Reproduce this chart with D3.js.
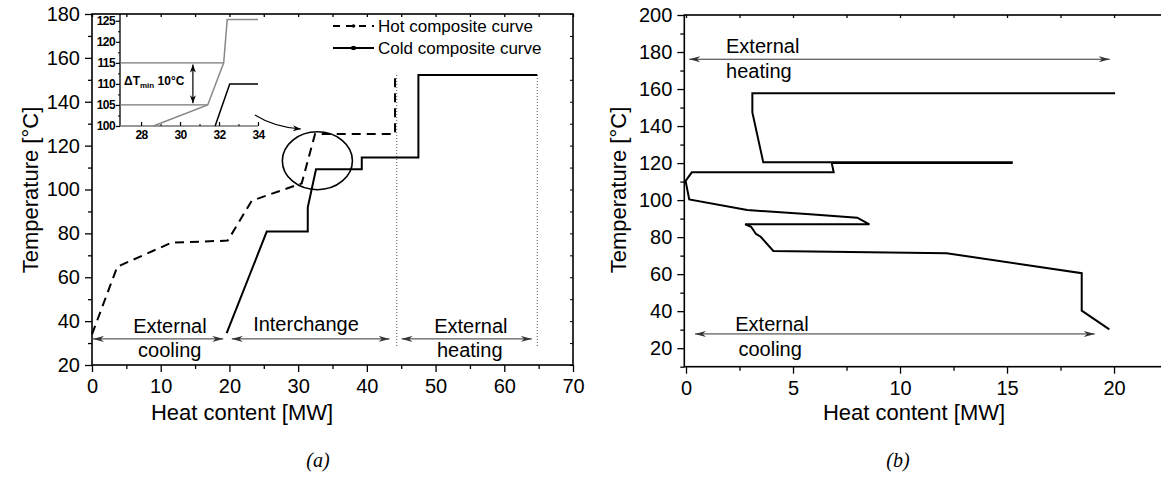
<!DOCTYPE html>
<html><head><meta charset="utf-8">
<script src="https://cdn.jsdelivr.net/npm/d3@7"></script>
<style>
body{margin:0;background:#fff}
text{font-family:"Liberation Sans",Arial,Helvetica,sans-serif;fill:#000}
</style></head>
<body><svg id="c" width="1161" height="492"></svg>
<script>
// ---- data (a) composite curves ----
const hotHeat  = [0, 3.68, 11.6, 19.75, 23.25, 30.52, 32.46, 44.1, 44.1];
const hotTemp  = [34, 64.8, 75.8, 76.7, 94.9, 102.8, 125.3, 125.3, 152.2];
const coldHeat = [19.6, 25.43, 31.4, 31.4, 32.6, 39.26, 39.26, 47.5, 47.5, 64.8];
const coldTemp = [34.5, 80.8, 80.8, 91.9, 109.2, 109.2, 114.6, 114.6, 152.2, 152.2];
// inset (zoom of pinch region)
const insetHotHeat  = [28.63, 31.42, 32.24, 32.42, 34];
const insetHotTemp  = [100, 105, 115, 125.3, 125.3];
const insetColdHeat = [31.8, 32.55, 34];
const insetColdTemp = [100, 110, 110];
const insetTicksX = [28, 30, 32, 34];
const insetTicksY = [100, 105, 110, 115, 120, 125];
// ---- data (b) grand composite curve ----
const gccHeat = [20.05, 3.1, 3.1, 3.61, 15.22, 15.22, 6.81, 6.9, 0.27, -0.02, 0.15, 2.86, 5.79, 8.0, 8.57, 2.76, 3.04, 3.27, 3.49, 4.08, 12.18, 18.49, 18.49, 19.78];
const gccTemp = [157.7, 157.7, 147.4, 120.4, 120.5, 120.0, 120.0, 115.0, 115.0, 110.3, 100.4, 94.6, 92.3, 90.5, 86.9, 86.9, 85.6, 81.7, 80.2, 72.5, 71.3, 60.5, 40.3, 30.2];
// ticks
const aTicksX = [0,10,20,30,40,50,60,70];
const aMinorX = [5,15,25,35,45,55,65];
const aTicksY = [20,40,60,80,100,120,140,160,180];
const aMinorY = [30,50,70,90,110,130,150,170];
const bTicksX = [0,5,10,15,20];
const bMinorX = [2.5,7.5,12.5,17.5];
const bTicksY = [20,40,60,80,100,120,140,160,180,200];
const bMinorY = [10,30,50,70,90,110,130,150,170,190];
// region markers (a)
const regionHeat = [0, 19.1, 20.2, 43.3, 44.9, 64.0];
const pinchLines = [44.35, 64.8];

const svg = d3.select("#c");
const defs = svg.append("defs");
function marker(id, color, w, h){
  defs.append("marker").attr("id", id).attr("viewBox", `0 0 ${w} ${h}`)
    .attr("refX", w).attr("refY", h/2).attr("markerWidth", w).attr("markerHeight", h)
    .attr("markerUnits","userSpaceOnUse").attr("orient","auto-start-reverse")
    .append("path").attr("d", `M0,0 L${w},${h/2} L0,${h} L${w*0.3},${h/2} Z`).attr("fill", color);
}
marker("arr", "#333", 11, 6);
marker("arrK", "#000", 8, 6);

// ================= (a) =================
const xa = d3.scaleLinear([0,70],[92,573]);
const ya = d3.scaleLinear([20,180],[365,14]);
const ga = svg.append("g");

function axes(g, x, y, tx, mx, ty, my){
  const [x0,x1] = x.range(), [y0,y1] = y.range();
  const ax = (gen, tr) => { const s = g.append("g").attr("transform", tr).call(gen); s.select(".domain").remove(); s.selectAll("line").attr("stroke","#000").attr("stroke-width",1.3); s.selectAll("text").style("font-size","20px").style("font-family",'"Liberation Sans",Arial,sans-serif'); return s; };
  ax(d3.axisBottom(x).tickValues(tx).tickSize(7).tickPadding(7).tickFormat(d3.format("d")), `translate(0,${y0})`);
  ax(d3.axisBottom(x).tickValues(mx).tickSize(4).tickFormat(""), `translate(0,${y0})`);
  ax(d3.axisLeft(y).tickValues(ty).tickSize(7).tickPadding(5).tickFormat(d3.format("d")), `translate(${x0},0)`);
  ax(d3.axisLeft(y).tickValues(my).tickSize(4).tickFormat(""), `translate(${x0},0)`);
  ax(d3.axisTop(x).tickValues(tx.concat(mx)).tickSize(-3).tickFormat(""), `translate(0,${y1})`);
  g.append("rect").attr("x",x0).attr("y",y1).attr("width",x1-x0).attr("height",y0-y1)
    .attr("fill","none").attr("stroke","#000").attr("stroke-width",1.6);
}
axes(ga, xa, ya, aTicksX, aMinorX, aTicksY, aMinorY);
// right-side inward ticks (a)
ga.append("g").attr("transform",`translate(573,0)`).call(d3.axisRight(ya).tickValues(aTicksY.concat(aMinorY)).tickSize(-3).tickFormat("")).call(s=>{s.select(".domain").remove();s.selectAll("line").attr("stroke","#000");});

const lineA = d3.line().x(d=>xa(d[0])).y(d=>ya(d[1]));
// pinch/dotted lines
pinchLines.forEach(v=>{
  ga.append("line").attr("x1",xa(v)).attr("x2",xa(v)).attr("y1",ya(152.2)).attr("y2",ya(28.6))
    .attr("stroke","#555").attr("stroke-width",1).attr("stroke-dasharray","1,2");
});
ga.append("path").attr("d", lineA(hotHeat.map((h,i)=>[h,hotTemp[i]])))
  .attr("fill","none").attr("stroke","#000").attr("stroke-width",2).attr("stroke-dasharray","9,6");
ga.append("path").attr("d", lineA(coldHeat.map((h,i)=>[h,coldTemp[i]])))
  .attr("fill","none").attr("stroke","#000").attr("stroke-width",2);

// ellipse around pinch
ga.append("ellipse").attr("cx",xa(32.8)).attr("cy",ya(113.1))
  .attr("rx",xa(32.8+5.1)-xa(32.8)).attr("ry",ya(113.1)-ya(113.1+13.2))
  .attr("fill","none").attr("stroke","#000").attr("stroke-width",1.6);
// curved arrow from inset
ga.append("path").attr("d",`M${xa(23.7)},${ya(134)} Q${xa(26.5)},${ya(128.5)} ${xa(30.4)},${ya(127.6)}`)
  .attr("fill","none").attr("stroke","#000").attr("stroke-width",1.1).attr("marker-end","url(#arrK)");

// region arrows
const arrowT = 31.9;
for (let i=0;i<6;i+=2){
  ga.append("line").attr("x1",xa(regionHeat[i])+1).attr("x2",xa(regionHeat[i+1])).attr("y1",ya(arrowT)).attr("y2",ya(arrowT))
    .attr("stroke","#333").attr("stroke-width",1).attr("marker-start","url(#arr)").attr("marker-end","url(#arr)");
}
const ann = (g, txt, x, y, size, anchor) => g.append("text").attr("x",x).attr("y",y).attr("text-anchor",anchor||"start").style("font-size",(size||20)+"px").text(txt);
ann(ga,"External", xa(6.0), 333);
ann(ga,"cooling", xa(6.7), 357);
ann(ga,"Interchange", xa(23.45), 331);
ann(ga,"External", xa(49.8), 333);
ann(ga,"heating", xa(50.2), 357);

// legend
const lg = ga.append("g");
lg.append("line").attr("x1",333).attr("x2",374).attr("y1",26).attr("y2",26).attr("stroke","#000").attr("stroke-width",1.8).attr("stroke-dasharray","7,6");
lg.append("circle").attr("cx",353.5).attr("cy",26).attr("r",1.8).attr("fill","#000");
lg.append("line").attr("x1",333).attr("x2",374).attr("y1",48).attr("y2",48).attr("stroke","#000").attr("stroke-width",1.8);
lg.append("rect").attr("x",351.5).attr("y",46).attr("width",4).attr("height",4).attr("fill","#000");
ann(lg,"Hot composite curve",378,32,17);
ann(lg,"Cold composite curve",378,54,17);

// inset
const xi = d3.scaleLinear([26.92,34],[120,258]);
const yi = d3.scaleLinear([100,126.6],[126,14]);
const gi = svg.append("g");
gi.append("line").attr("x1",120).attr("x2",120).attr("y1",yi(100)).attr("y2",yi(126.6)).attr("stroke","#000").attr("stroke-width",1.3);
gi.append("line").attr("x1",xi(26.92)).attr("x2",xi(34)).attr("y1",yi(100)).attr("y2",yi(100)).attr("stroke","#777").attr("stroke-width",1.3);
gi.append("g").attr("transform","translate(120,0)").call(d3.axisLeft(yi).tickValues(insetTicksY).tickSize(4).tickPadding(1).tickFormat(d3.format("d")))
  .call(s=>{s.select(".domain").remove();s.selectAll("line").attr("stroke","#000").attr("stroke-width",1.2);s.selectAll("text").style("font-size","12px").style("font-weight","bold").style("letter-spacing","-0.6px");});
gi.append("g").attr("transform",`translate(120,0)`).call(d3.axisLeft(yi).tickValues([102.5,107.5,112.5,117.5,122.5]).tickSize(2).tickFormat(""))
  .call(s=>{s.select(".domain").remove();s.selectAll("line").attr("stroke","#000");});
gi.append("g").attr("transform",`translate(0,${yi(100)})`).call(d3.axisBottom(xi).tickValues(insetTicksX).tickSize(-4).tickPadding(4).tickFormat(d3.format("d")))
  .call(s=>{s.select(".domain").remove();s.selectAll("line").attr("stroke","#000").attr("stroke-width",1.2);s.selectAll("text").style("font-size","12px").style("font-weight","bold").style("letter-spacing","-0.6px");});
gi.append("g").attr("transform",`translate(0,${yi(100)})`).call(d3.axisBottom(xi).tickValues([29,31,33]).tickSize(-2).tickFormat(""))
  .call(s=>{s.select(".domain").remove();s.selectAll("line").attr("stroke","#000");});
const lineI = d3.line().x(d=>xi(d[0])).y(d=>yi(d[1]));
[[115,32.24],[105,31.42]].forEach(([t,h])=>{
  gi.append("line").attr("x1",xi(26.92)).attr("x2",xi(h)).attr("y1",yi(t)).attr("y2",yi(t)).attr("stroke","#777").attr("stroke-width",1.3);
});
gi.append("path").attr("d",lineI(insetHotHeat.map((h,i)=>[h,insetHotTemp[i]]))).attr("fill","none").attr("stroke","#888").attr("stroke-width",1.5);
gi.append("path").attr("d",lineI(insetColdHeat.map((h,i)=>[h,insetColdTemp[i]]))).attr("fill","none").attr("stroke","#000").attr("stroke-width",1.5);
gi.append("line").attr("x1",xi(30.66)).attr("x2",xi(30.66)).attr("y1",yi(114.6)).attr("y2",yi(105.4))
  .attr("stroke","#000").attr("stroke-width",1.2).attr("marker-start","url(#arrK)").attr("marker-end","url(#arrK)");
const dt = gi.append("text").attr("x",124).attr("y",85).style("font-size","12px").style("font-weight","bold");
dt.append("tspan").text("ΔT");
dt.append("tspan").attr("dy",3).style("font-size","8px").text("min");
dt.append("tspan").attr("dy",-3).text(" 10°C");

// titles (a)
svg.append("text").attr("transform","translate(38,190) rotate(-90)").attr("text-anchor","middle").style("font-size","22px").text("Temperature [°C]");
svg.append("text").attr("x",242).attr("y",420).attr("text-anchor","middle").style("font-size","22px").text("Heat content [MW]");
svg.append("text").attr("x",318).attr("y",467).attr("text-anchor","middle").style("font-size","20px").style("font-style","italic").style("font-family",'"Liberation Serif","Times New Roman",serif').text("(a)");

// ================= (b) =================
const xb = d3.scaleLinear([-0.08,22.4],[684.3,1165.4]);
const yb = d3.scaleLinear([10,200],[366.7,15]);
const gb = svg.append("g");
axes(gb, xb, yb, bTicksX, bMinorX, bTicksY, bMinorY);
const lineB = d3.line().x(d=>xb(d[0])).y(d=>yb(d[1]));
gb.append("path").attr("d", lineB(gccHeat.map((h,i)=>[h,gccTemp[i]])))
  .attr("fill","none").attr("stroke","#000").attr("stroke-width",2).attr("stroke-linejoin","miter");
gb.append("line").attr("x1",xb(0.15)).attr("x2",xb(19.8)).attr("y1",yb(176.1)).attr("y2",yb(176.1))
  .attr("stroke","#333").attr("stroke-width",1).attr("marker-start","url(#arr)").attr("marker-end","url(#arr)");
gb.append("line").attr("x1",xb(0.42)).attr("x2",xb(19.1)).attr("y1",yb(27.7)).attr("y2",yb(27.7))
  .attr("stroke","#333").attr("stroke-width",1).attr("marker-start","url(#arr)").attr("marker-end","url(#arr)");
ann(gb,"External", xb(1.87), 53);
ann(gb,"heating", xb(1.87), 78);
ann(gb,"External", xb(2.3), 331);
ann(gb,"cooling", xb(2.45), 356);
svg.append("text").attr("transform","translate(626,190) rotate(-90)").attr("text-anchor","middle").style("font-size","22px").text("Temperature [°C]");
svg.append("text").attr("x",914).attr("y",420).attr("text-anchor","middle").style("font-size","22px").text("Heat content [MW]");
svg.append("text").attr("x",898).attr("y",467).attr("text-anchor","middle").style("font-size","20px").style("font-style","italic").style("font-family",'"Liberation Serif","Times New Roman",serif').text("(b)");
</script></body></html>
